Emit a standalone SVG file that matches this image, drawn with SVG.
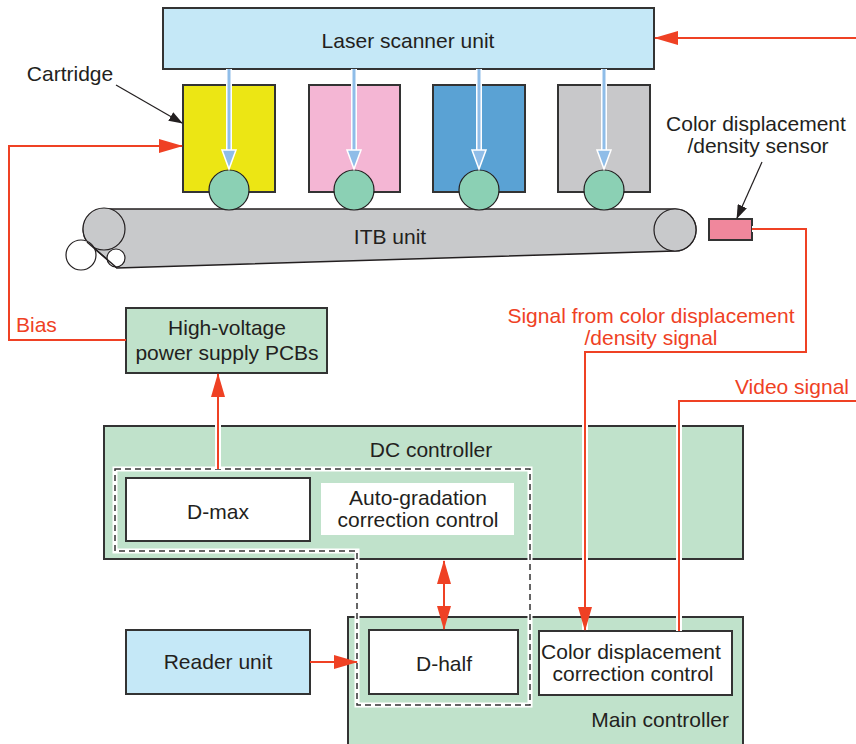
<svg xmlns="http://www.w3.org/2000/svg" width="856" height="744" viewBox="0 0 856 744">
<style>
text{font-family:"Liberation Sans",Arial,sans-serif;font-size:21px;fill:#231f20}
.red{fill:#ef4124}
.box{stroke:#333;stroke-width:2}
.rl{fill:none;stroke:#ef4124;stroke-width:2}
.halo{fill:none;stroke:#fff;stroke-width:6}
.bl{fill:none;stroke:#fff;stroke-width:6}
.bli{fill:none;stroke:#8fbde8;stroke-width:3}
</style>
<defs>
<marker id="ar2" markerWidth="24" markerHeight="14" refX="23" refY="7" orient="auto-start-reverse" markerUnits="userSpaceOnUse" viewBox="0 0 24 14">
<path d="M0,0 L24,7 L0,14 z" fill="#ef4124"/>
</marker>
<marker id="ak" markerWidth="14" markerHeight="10" refX="13" refY="5" orient="auto" markerUnits="userSpaceOnUse" viewBox="0 0 14 10">
<path d="M0,0 L14,5 L0,10 z" fill="#231f20"/>
</marker>
</defs>

<g id="laser">
<rect x="163" y="8" width="491" height="61" fill="#c5e8f7" class="box"/>
<text x="408" y="48" text-anchor="middle">Laser scanner unit</text>
</g>

<g id="cartridges">
<rect x="183" y="85" width="92" height="107" fill="#ece614" class="box"/>
<rect x="309" y="85" width="91" height="107" fill="#f4b6d4" class="box"/>
<rect x="433" y="85" width="92" height="107" fill="#5aa2d4" class="box"/>
<rect x="558" y="85" width="92" height="107" fill="#c8c8ca" class="box"/>
</g>

<g id="itb">
<path d="M104,209 L675,209 A21,21 0 0 1 675,251 L117,268 L87,242 A21,21 0 0 1 104,209 Z" fill="#c8c9cb" stroke="#231f20" stroke-width="1.5"/>
<circle cx="104" cy="229" r="21" fill="#c8c9cb" stroke="#231f20" stroke-width="1.2"/>
<circle cx="675" cy="230" r="21" fill="#c8c9cb" stroke="#231f20" stroke-width="1.2"/>
<circle cx="81" cy="255" r="15" fill="#fff" stroke="#231f20" stroke-width="1.2"/>
<circle cx="116" cy="258" r="9" fill="#fff" stroke="#231f20" stroke-width="1.2"/>
<path d="M117,268 L87,242" fill="none" stroke="#231f20" stroke-width="1.5"/>
<text x="390" y="244" text-anchor="middle">ITB unit</text>
</g>

<g id="drums" fill="#8bd0b4" stroke="#231f20" stroke-width="1.2">
<circle cx="229" cy="190" r="20"/>
<circle cx="354" cy="190" r="20"/>
<circle cx="479" cy="190" r="20"/>
<circle cx="604" cy="190" r="20"/>
</g>

<g id="laser-beams">
<g>
<path d="M229,69 V152" class="bl"/><path d="M229,69 V152" class="bli"/>
<path d="M222,150 L236,150 L229,169 Z" fill="#8fbde8" stroke="#fff" stroke-width="1.5"/>
</g>
<g>
<path d="M354,69 V152" class="bl"/><path d="M354,69 V152" class="bli"/>
<path d="M347,150 L361,150 L354,169 Z" fill="#8fbde8" stroke="#fff" stroke-width="1.5"/>
</g>
<g>
<path d="M479,69 V152" class="bl"/><path d="M479,69 V152" class="bli"/>
<path d="M472,150 L486,150 L479,169 Z" fill="#8fbde8" stroke="#fff" stroke-width="1.5"/>
</g>
<g>
<path d="M604,69 V152" class="bl"/><path d="M604,69 V152" class="bli"/>
<path d="M597,150 L611,150 L604,169 Z" fill="#8fbde8" stroke="#fff" stroke-width="1.5"/>
</g>
</g>

<g id="cartridge-label">
<text x="70" y="81" text-anchor="middle">Cartridge</text>
</g>

<g id="sensor">
<rect x="709" y="219" width="43" height="21" fill="#f0879c" class="box"/>
<text x="756" y="131" text-anchor="middle">Color displacement</text>
<text x="758" y="153" text-anchor="middle">/density sensor</text>
</g>

<g id="hv">
<rect x="126" y="308" width="201" height="65" fill="#c0e2cb" class="box"/>
<text x="227" y="335" text-anchor="middle">High-voltage</text>
<text x="227" y="360" text-anchor="middle">power supply PCBs</text>
</g>

<g id="dc">
<rect x="104" y="426" width="639" height="133" fill="#c0e2cb" class="box"/>
<text x="431" y="457" text-anchor="middle">DC controller</text>
</g>

<g id="main">
<rect x="348" y="617" width="395" height="128" fill="#c0e2cb" class="box"/>
<text x="729" y="727" text-anchor="end">Main controller</text>
</g>

<g id="dashed">
<path d="M115,469 H530 V705 H357 V551 H115 Z" fill="none" stroke="#fff" stroke-width="5"/>
<path d="M115,469 H530 V705 H357 V551 H115 Z" fill="none" stroke="#333" stroke-width="1.5" stroke-dasharray="6,4"/>
</g>

<g id="dmax">
<rect x="126" y="478" width="184" height="63" fill="#fff" class="box"/>
<text x="218" y="519" text-anchor="middle">D-max</text>
</g>

<g id="autograd">
<rect x="321" y="483" width="193" height="52" fill="#fff"/>
<text x="418" y="505" text-anchor="middle">Auto-gradation</text>
<text x="418" y="527" text-anchor="middle">correction control</text>
</g>

<g id="dhalf">
<rect x="369" y="630" width="149" height="64" fill="#fff" class="box"/>
<text x="444" y="671" text-anchor="middle">D-half</text>
</g>

<g id="cdcc">
<rect x="539" y="631" width="193" height="64" fill="#fff" class="box"/>
<text x="631" y="659" text-anchor="middle">Color displacement</text>
<text x="633" y="681" text-anchor="middle">correction control</text>
</g>

<g id="reader">
<rect x="126" y="630" width="184" height="64" fill="#c5e8f7" class="box"/>
<text x="218" y="669" text-anchor="middle">Reader unit</text>
</g>

<g id="connectors">
<path d="M856,38 H655" class="rl" marker-end="url(#ar2)"/>
<path d="M116,85 L182,123" fill="none" stroke="#231f20" stroke-width="1.2" marker-end="url(#ak)"/>
<path d="M762,162 L737,218" fill="none" stroke="#231f20" stroke-width="1.2" marker-end="url(#ak)"/>
<path d="M126,340 H9 V146 H182" class="rl" marker-end="url(#ar2)"/>
<text x="16" y="332" class="red">Bias</text>
<path d="M218,469 V374" class="halo"/>
<path d="M218,469 V374" class="rl" marker-end="url(#ar2)"/>
<path d="M752,229 H806 V352 H585 V630" class="halo"/>
<path d="M752,229 H806 V352 H585 V630" class="rl" marker-end="url(#ar2)"/>
<text x="651" y="323" text-anchor="middle" class="red">Signal from color displacement</text>
<text x="651" y="345" text-anchor="middle" class="red">/density signal</text>
<path d="M856,401 H679 V631" class="halo"/>
<path d="M856,401 H679 V631" class="rl"/>
<text x="849" y="394" text-anchor="end" class="red">Video signal</text>
<path d="M444,561 V629" class="rl" marker-start="url(#ar2)" marker-end="url(#ar2)"/>
<path d="M310,662 H357" class="rl" marker-end="url(#ar2)"/>
</g>
</svg>
